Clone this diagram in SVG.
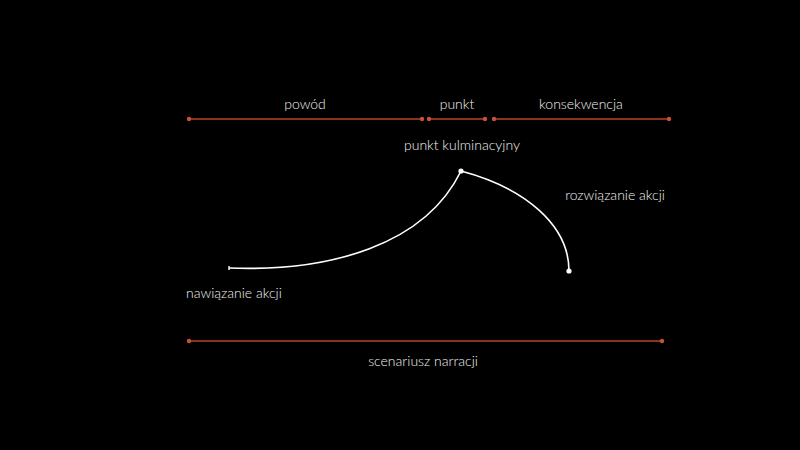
<svg xmlns="http://www.w3.org/2000/svg" width="800" height="450" viewBox="0 0 800 450">
<style>
.bar{stroke:#b8422e;stroke-width:1.6;fill:none}
.rd{fill:#c9503a}
.arc{stroke:#ffffff;stroke-width:1.6;fill:none}
.wd{fill:#ffffff}
text{font-family:Lato,"Open Sans","Liberation Sans",sans-serif;font-size:14px;fill:#f2f2f2;font-weight:300}
</style>
<rect width="800" height="450" fill="#000"/>
<g id="connectors">
<line class="bar" x1="189" y1="119" x2="422" y2="119"/>
<line class="bar" x1="429" y1="119" x2="485" y2="119"/>
<line class="bar" x1="494" y1="119" x2="669" y2="119"/>
<line class="bar" x1="189" y1="341" x2="662" y2="341"/>
<path class="arc" d="M229,268 C330,272 425,245 461,171"/>
<path class="arc" d="M461,171 C525,188 569,225 569,271"/>
</g>
<g id="bar-dots">
<circle class="rd" cx="189" cy="119" r="2.2"/>
<circle class="rd" cx="422" cy="119" r="2.2"/>
<circle class="rd" cx="429" cy="119" r="2.2"/>
<circle class="rd" cx="485" cy="119" r="2.2"/>
<circle class="rd" cx="494" cy="119" r="2.2"/>
<circle class="rd" cx="669" cy="119" r="2.2"/>
<circle class="rd" cx="189" cy="341" r="2.2"/>
<circle class="rd" cx="662" cy="341" r="2.2"/>
</g>
<g id="powod"><text x="305" y="109" text-anchor="middle">powód</text></g>
<g id="punkt"><text x="457" y="109" text-anchor="middle">punkt</text></g>
<g id="konsekwencja"><text x="581" y="109" text-anchor="middle">konsekwencja</text></g>
<g id="kulminacja"><circle class="wd" cx="461" cy="171" r="2.6"/><text x="462" y="150" text-anchor="middle">punkt kulminacyjny</text></g>
<g id="nawiazanie"><line x1="229" y1="266" x2="229" y2="270" stroke="#fff" stroke-width="1.4"/><text x="186" y="298">nawiązanie akcji</text></g>
<g id="rozwiazanie"><circle class="wd" cx="569" cy="271" r="2.6"/><text x="615" y="200" text-anchor="middle">rozwiązanie akcji</text></g>
<g id="scenariusz"><text x="423" y="366" text-anchor="middle">scenariusz narracji</text></g>
</svg>
